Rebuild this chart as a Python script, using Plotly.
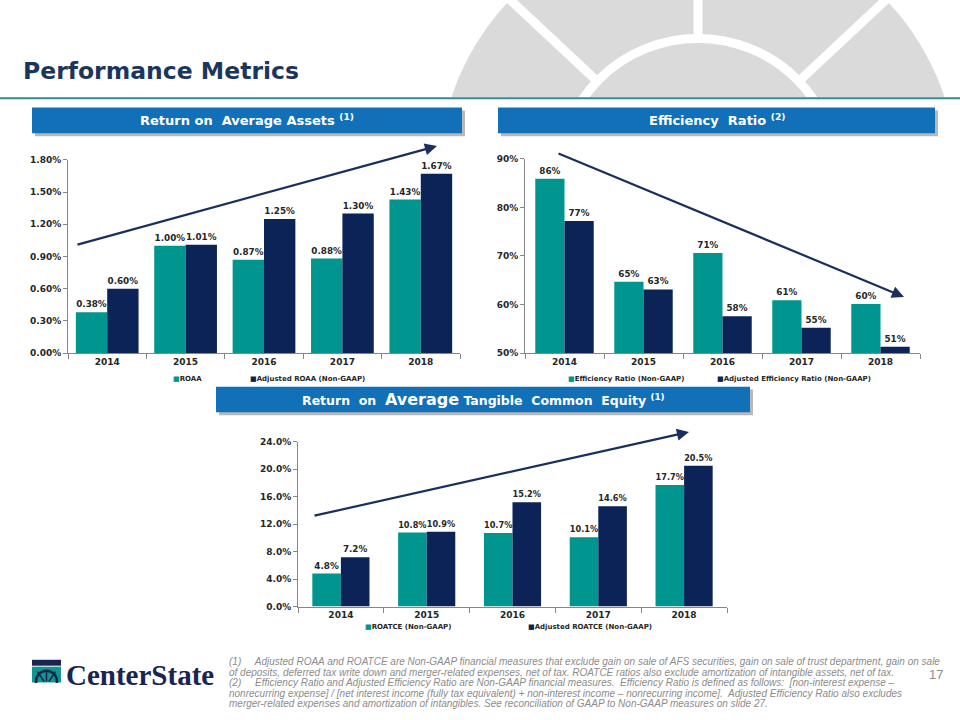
import math
import plotly.graph_objects as go

# ---------------- data ----------------
years = ["2014", "2015", "2016", "2017", "2018"]

roaa = [0.38, 1.00, 0.87, 0.88, 1.43]
roaa_adj = [0.60, 1.01, 1.25, 1.30, 1.67]

eff = [85.9, 64.7, 70.6, 60.9, 60.1]
eff_adj = [77.2, 63.1, 57.6, 55.2, 51.3]

roatce = [4.8, 10.8, 10.7, 10.1, 17.7]
roatce_adj = [7.2, 10.9, 15.2, 14.6, 20.5]

roaa_ticks = [0.0, 0.3, 0.6, 0.9, 1.2, 1.5, 1.8]
eff_ticks = [50, 60, 70, 80, 90]
roatce_ticks = [0, 4, 8, 12, 16, 20, 24]

legend1 = ["ROAA", "Adjusted ROAA (Non-GAAP)"]
legend2 = ["Efficiency Ratio (Non-GAAP)", "Adjusted Efficiency Ratio (Non-GAAP)"]
legend3 = ["ROATCE (Non-GAAP)", "Adjusted ROATCE (Non-GAAP)"]

footnotes = [
    "(1)\u00a0\u00a0\u00a0\u00a0 Adjusted ROAA and ROATCE are Non-GAAP financial measures that exclude gain on sale of AFS securities, gain on sale of trust department, gain on sale",
    "of deposits, deferred tax write down and merger-related expenses, net of tax. ROATCE ratios also exclude amortization of intangible assets, net of tax.",
    "(2)\u00a0\u00a0\u00a0\u00a0 Efficiency Ratio and Adjusted Efficiency Ratio are Non-GAAP financial measures.\u00a0 Efficiency Ratio is defined as follows:\u00a0 [non-interest expense \u2013",
    "nonrecurring expense] / [net interest income (fully tax equivalent) + non-interest income \u2013 nonrecurring income].\u00a0 Adjusted Efficiency Ratio also excludes",
    "merger-related expenses and amortization of intangibles. See reconciliation of GAAP to Non-GAAP measures on slide 27.",
]

# ---------------- style ----------------
W, H = 960, 720
TEAL = "#00958F"
NAVY = "#0B2356"
BLUE = "#1270B8"
TITLE_C = "#1B365D"
AX_C = "#868686"
FONT = "DejaVu Sans"


def X(p):
    return p / W


def Y(p):
    return 1 - p / H


fig = go.Figure()

charts = [
    dict(ax="", vals=(roaa, roaa_adj), fmt="%{y:.2f}%", w=0.40, xd=(68, 460), yd=(157, 353),
         rng=[0, 1.8], ticks=roaa_ticks, tfmt="{:.2f}%", clip=False),
    dict(ax="2", vals=(eff, eff_adj), fmt="%{y:.0f}%", w=0.37, xd=(525, 920), yd=(156, 353),
         rng=[50, 90], ticks=eff_ticks, tfmt="{:.0f}%", clip=True),
    dict(ax="3", vals=(roatce, roatce_adj), fmt="%{y:.1f}%", w=0.333, xd=(298, 727), yd=(443, 610),
         rng=[0, 24], ticks=roatce_ticks, tfmt="{:.1f}%", clip=False),
]

for c in charts:
    for i, (vals, col) in enumerate(zip(c["vals"], (TEAL, NAVY))):
        fig.add_trace(go.Bar(
            x=years, y=vals, xaxis="x" + c["ax"], yaxis="y" + c["ax"],
            marker=dict(color=col, line=dict(width=0)),
            width=c["w"], offset=-c["w"] if i == 0 else 0,
            texttemplate=c["fmt"], textposition="outside",
            textfont=dict(family=FONT, size=8.8, color="#262626", weight="bold"),
            cliponaxis=c["clip"], showlegend=False, hoverinfo="skip",
        ))
    fig.layout["xaxis" + c["ax"]] = dict(
        domain=[X(c["xd"][0]), X(c["xd"][1])], anchor="y" + c["ax"], type="category",
        showline=True, linecolor=AX_C, linewidth=1, ticks="outside", ticklen=5,
        tickcolor=AX_C, tickson="boundaries", showgrid=False,
        tickfont=dict(family=FONT, size=9, color="#262626", weight="bold"),
    )
    fig.layout["yaxis" + c["ax"]] = dict(
        domain=[Y(c["yd"][1]), Y(c["yd"][0])], anchor="x" + c["ax"], range=c["rng"],
        showline=True, linecolor=AX_C, linewidth=1, ticks="outside", ticklen=4,
        tickcolor=AX_C, showgrid=False, zeroline=False, tickmode="array",
        tickvals=c["ticks"], ticktext=[c["tfmt"].format(v) for v in c["ticks"]],
        tickfont=dict(family=FONT, size=9, color="#262626", weight="bold"),
    )

shapes = []
# decorative background emblem
cx, cy, R = 698, 173, 259
shapes.append(dict(type="circle", xref="paper", yref="paper", x0=X(cx - R), x1=X(cx + R),
                   y0=Y(cy + R), y1=Y(cy - R), fillcolor="#DADADA", line=dict(width=0), layer="below"))
r2 = 139
shapes.append(dict(type="circle", xref="paper", yref="paper", x0=X(cx - r2), x1=X(cx + r2),
                   y0=Y(cy + r2), y1=Y(cy - r2), line=dict(color="white", width=9), layer="below"))
for ang in (-46.5, 0, 46.5):
    a = math.radians(ang)
    sx, sy = math.sin(a), -math.cos(a)
    shapes.append(dict(type="line", xref="paper", yref="paper",
                       x0=X(cx + sx * (r2 + 3)), y0=Y(cy + sy * (r2 + 3)),
                       x1=X(cx + sx * 320), y1=Y(cy + sy * 320),
                       line=dict(color="white", width=9), layer="below"))
shapes.append(dict(type="rect", xref="paper", yref="paper", x0=0, x1=1, y0=0, y1=Y(93.5),
                   fillcolor="white", line=dict(width=0), layer="below"))
shapes.append(dict(type="line", xref="paper", yref="paper", x0=0, x1=1, y0=Y(94.5), y1=Y(94.5),
                   line=dict(color="#2F8D8A", width=2), layer="below"))

# header boxes
boxes = [
    ((32, 104, 462, 130), "Return on\u00a0 Average Assets <sup>(1)</sup>", 13),
    ((498, 104, 935, 130), "Efficiency\u00a0 Ratio <sup>(2)</sup>", 13),
    ((216, 387, 750, 413),
     "Return\u00a0 on\u00a0 <span style='font-size:16px'>Average</span> Tangible\u00a0 Common\u00a0 Equity <sup>(1)</sup>", 12.5),
]
annotations = []
for (x0, y0, x1, y1), txt, fs in boxes:
    shapes.append(dict(type="rect", xref="paper", yref="paper", x0=X(x0 + 3), x1=X(x1 + 3),
                       y0=Y(y1 + 3), y1=Y(y0 + 3), fillcolor="rgba(0,0,0,0.28)",
                       line=dict(width=0), layer="below"))
    shapes.append(dict(type="rect", xref="paper", yref="paper", x0=X(x0), x1=X(x1),
                       y0=Y(y1), y1=Y(y0), fillcolor=BLUE, line=dict(width=0), layer="below"))
    annotations.append(dict(xref="paper", yref="paper", x=X((x0 + x1) / 2), y=Y((y0 + y1) / 2),
                            text=txt, showarrow=False, xanchor="center", yanchor="middle",
                            font=dict(family=FONT, size=fs, color="white", weight="bold")))

# title
annotations.append(dict(xref="paper", yref="paper", x=X(21), y=Y(67), text="Performance Metrics",
                        showarrow=False, xanchor="left", yanchor="middle",
                        font=dict(family=FONT, size=23.5, color=TITLE_C, weight="bold")))

# trend arrows
for (tx, ty), (hx, hy) in [((76, 242), (437, 143)), ((557, 152), (904, 296)), ((313, 517), (689, 433))]:
    annotations.append(dict(xref="paper", yref="paper", x=X(hx), y=Y(hy), ax=tx - hx, ay=ty - hy,
                            axref="pixel", ayref="pixel", showarrow=True, arrowhead=2,
                            arrowsize=1.1, arrowwidth=2.2, arrowcolor="#1B2F5E", text=""))

# manual legends
for labels, positions, ly in [(legend1, (171, 248), 379), (legend2, (566, 715), 379), (legend3, (363, 526), 631)]:
    for lab, lx, col in zip(labels, positions, (TEAL, NAVY)):
        annotations.append(dict(xref="paper", yref="paper", x=X(lx), y=Y(ly),
                                text=f"<span style='color:{col}'>\u25A0</span>{lab}",
                                showarrow=False, xanchor="left", yanchor="middle",
                                font=dict(family=FONT, size=7, color="#262626", weight="bold")))

# logo
shapes.append(dict(type="rect", xref="paper", yref="paper", x0=X(32), x1=X(61), y0=Y(670), y1=Y(664),
                   fillcolor="#1A2452", line=dict(width=0)))
shapes.append(dict(type="rect", xref="paper", yref="paper", x0=X(32), x1=X(61), y0=Y(687), y1=Y(671),
                   fillcolor="#10968E", line=dict(width=0)))
shapes.append(dict(type="circle", xref="paper", yref="paper", x0=X(36), x1=X(57), y0=Y(697), y1=Y(675),
                   fillcolor="rgba(0,0,0,0)", line=dict(color="#1A2452", width=2.5)))
shapes.append(dict(type="rect", xref="paper", yref="paper", x0=X(30), x1=X(63), y0=Y(700), y1=Y(687.5),
                   fillcolor="white", line=dict(width=0)))
for dx in (-6, 0, 6):
    shapes.append(dict(type="line", xref="paper", yref="paper", x0=X(46.5 + dx * 0.4), y0=Y(686),
                       x1=X(46.5 + dx * 1.5), y1=Y(676), line=dict(color="#1A2452", width=1.5)))
annotations.append(dict(xref="paper", yref="paper", x=X(64), y=Y(679), text="CenterState",
                        showarrow=False, xanchor="left", yanchor="middle",
                        font=dict(family="Liberation Serif", size=29, color="#1A2452", weight="bold")))

# footnotes
for i, line in enumerate(footnotes):
    annotations.append(dict(xref="paper", yref="paper", x=X(227), y=Y(666 + i * 10.6),
                            text=f"<i>{line}</i>", showarrow=False, xanchor="left", yanchor="middle",
                            font=dict(family="Liberation Sans", size=10, color="#8C8C8C")))
annotations.append(dict(xref="paper", yref="paper", x=X(936), y=Y(679), text="17", showarrow=False,
                        xanchor="center", yanchor="middle",
                        font=dict(family="Liberation Sans", size=13, color="#8C8C8C")))

fig.update_layout(
    width=W, height=H, autosize=False, margin=dict(l=0, r=0, t=0, b=0),
    paper_bgcolor="white", plot_bgcolor="rgba(0,0,0,0)",
    barmode="overlay", shapes=shapes, annotations=annotations,
    showlegend=False, font=dict(family=FONT),
)

fig.write_html("out.html", config={"displayModeBar": False},
               post_script="document.body.style.margin='0';document.body.style.padding='0';"
                           "document.body.style.overflow='hidden';")
